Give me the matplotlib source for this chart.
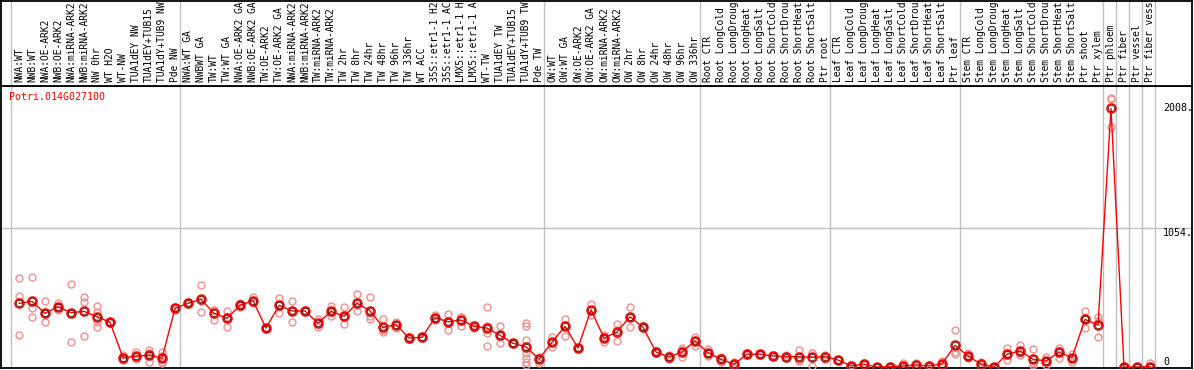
import matplotlib
matplotlib.use("Agg")
import matplotlib.pyplot as plt
import matplotlib.transforms as mtransforms
import numpy as np

# ---- data ----
gene = "Potri.014G027100"

samples = [
    "NWA:WT", "NWB:WT", "NWA:OE-ARK2", "NWB:OE-ARK2", "NWA:miRNA-ARK2", "NWB:miRNA-ARK2",
    "NW 0hr", "WT H2O", "WT-NW", "TUA1dEY NW", "TUA1dEY+TUB15", "TUA1dY+TUB9 NW", "Pde NW",
    "NWA:WT GA", "NWBWT GA", "TW:WT", "TW:WT GA", "NWA:OE-ARK2 GA", "NWB:OE-ARK2 GA",
    "TW:OE-ARK2", "TW:OE-ARK2 GA", "NWA:miRNA-ARK2", "NWB:miRNA-ARK2", "TW:miRNA-ARK2",
    "TW:miRNA-ARK2 GA", "TW 2hr", "TW 8hr", "TW 24hr", "TW 48hr", "TW 96hr", "TW 336hr",
    "WT ACC", "35S::etr1-1 H2O", "35S::etr1-1 ACC", "LMX5::etr1-1 H2O", "LMX5::etr1-1 ACC",
    "WT-TW", "TUA1dEY TW", "TUA1dEY+TUB15", "TUA1dY+TUB9 TW", "Pde TW",
    "OW:WT", "OW:WT GA", "OW:OE-ARK2", "OW:OE-ARK2 GA", "OW:miRNA-ARK2", "OW:miRNA-ARK2 GA",
    "OW 2hr", "OW 8hr", "OW 24hr", "OW 48hr", "OW 96hr", "OW 336hr",
    "Root CTR", "Root LongCold", "Root LongDrought", "Root LongHeat", "Root LongSalt",
    "Root ShortCold", "Root ShortDrought", "Root ShortHeat", "Root ShortSalt", "Ptr root",
    "Leaf CTR", "Leaf LongCold", "Leaf LongDrought", "Leaf LongHeat", "Leaf LongSalt",
    "Leaf ShortCold", "Leaf ShortDrought", "Leaf ShortHeat", "Leaf ShortSalt", "Ptr leaf",
    "Stem CTR", "Stem LongCold", "Stem LongDrought", "Stem LongHeat", "Stem LongSalt",
    "Stem ShortCold", "Stem ShortDrought", "Stem ShortHeat", "Stem ShortSalt", "Ptr shoot",
    "Ptr xylem", "Ptr phloem", "Ptr fiber", "Ptr vessel", "Ptr fiber vessel",
]

# samples per experiment block (separated by grey lines)
group_sizes = [13, 28, 12, 10, 10, 11, 1, 1, 1, 1]

means = [
    484, 499, 408, 458, 413, 423, 382, 340, 71, 81, 91, 66, 446,
    484, 514, 408, 370, 469, 504, 296, 469, 426, 426, 332, 423, 385, 484, 428, 302, 322,
    220, 226, 375, 344, 357, 309, 296, 241, 180, 154, 59,
    188, 309, 145, 435, 220, 266, 382, 302, 114, 76, 114, 198,
    109, 59, 21, 97, 97, 84, 78, 78, 74, 78,
    53, 8, 21, 0, 2, 8, 15, 8, 23, 165,
    84, 21, 0, 97, 122, 59, 46, 112, 71, 362, 319,
    1966, 0, 0, 2,
]

reps = [
    [674, 540, 241], [682, 446, 378], [499, 340, 408], [484, 433, 458], [628, 413, 190],
    [534, 496, 233], [464, 420, 340, 305], [345, 335], [91, 53, 71], [112, 59, 75],
    [129, 40, 104, 92], [112, 40, 28, 84], [458, 433],
    [492, 476], [623, 416, 503], [433, 357, 432], [426, 306, 378], [469, 484, 455],
    [534, 484, 494], [302, 290], [522, 413, 472], [502, 340, 436], [430, 422], [362, 302],
    [464, 388, 417], [454, 324, 377], [555, 423, 474], [530, 367, 387], [362, 264, 280],
    [344, 322, 300], [228, 212], [230, 222], [395, 375, 355], [403, 281, 348],
    [382, 312, 377], [322, 300, 305], [454, 256, 162, 312], [309, 180, 234], [185, 175],
    [337, 312, 205, 104, 66, 40, 15], [78, 28, 70],
    [226, 150], [367, 238, 322], [150, 140], [479, 393], [226, 192, 242], [324, 195, 279],
    [458, 306, 382], [310, 294], [125, 103], [91, 59, 78], [142, 74, 126], [226, 160, 208],
    [139, 84, 104], [78, 40, 59], [40, 2, 21], [104, 90], [100, 94], [90, 78], [90, 66],
    [129, 48, 57], [104, 10, 108], [93, 63],
    [55, 51], [15, 2], [28, 14], [0, 2], [6, 0], [28, 0], [28, 2], [15, 2], [48, 5],
    [281, 99, 115],
    [104, 68, 80], [40, 8], [0, 2], [142, 53, 96], [167, 91, 108], [137, 13, 27],
    [78, 13, 47], [147, 71, 118], [97, 40, 76], [428, 296, 362], [382, 226, 349],
    [2042, 1822, 2034], [0, 0], [0, 0], [28, 0],
]

ytick_vals = [2008, 1054, 0]
ytick_text = ["2008.", "1054.", "0"]

# ---- figure ----
W, H = 1194, 370
fig = plt.figure(figsize=(W / 100, H / 100), dpi=100)
mono = "DejaVu Sans Mono"
grey = "#c0c0c0"

top_px = 85.7
ax = fig.add_axes([1 / W, (H - 368) / H, 1191 / W, (368 - top_px) / H])
axl = fig.add_axes([1 / W, (H - top_px) / H, 1191 / W, (top_px - 0.6) / H])

x = np.arange(len(samples))
xlim = (-1.385, 90.23)
for a in (ax, axl):
    a.set_xlim(*xlim)
    a.set_xticks([])
    a.set_yticks([])
    for s in a.spines.values():
        s.set_color("black")
        s.set_linewidth(1.3)

ax.set_ylim(-7.6, 2138)
axl.set_ylim(0, 1)

# grey separators between sample blocks
seps = np.concatenate([[-1], np.cumsum(group_sizes) - 1]) + 0.4
for s in seps:
    ax.axvline(s, color=grey, lw=1, zorder=1)
    axl.axvline(s, color=grey, lw=1, zorder=1)
ax.axhline(1054, color=grey, lw=1, zorder=1)

# sample labels (the header only has room for 14 characters)
for i, lab in enumerate(samples):
    axl.text(i, 0.045, lab[:14].rstrip(), rotation=90, ha="center", va="bottom",
             fontfamily=mono, fontsize=6.9, color="black",
             transform=axl.get_xaxis_transform())

# replicates
for i, r in enumerate(reps):
    ax.plot([i] * len(r), r, ls="none", marker="o", ms=5, mfc="none",
            mec="#f09090", mew=1, zorder=3)

# mean line
ax.plot(x, means, color="red", lw=1, marker="o", ms=6.4, mfc="none",
        mec="red", mew=1.2, zorder=4)
ax.plot(x, means, ls="none", marker="o", ms=4.6, mfc="none",
        mec="#300000", mew=0.5, zorder=5)

# gene name
ax.text(0.007, 0.961, gene, color="red", fontfamily=mono, fontsize=7.2,
        ha="left", va="center", transform=ax.transAxes)

# value labels on the right
tr = mtransforms.blended_transform_factory(ax.transAxes, ax.transData)
for v, t in zip(ytick_vals, ytick_text):
    ax.text((1163 - 1) / 1191, v, t, fontfamily=mono, fontsize=7.2, color="black",
            ha="left", va="bottom" if v == 0 else "top", transform=tr)

fig.savefig("out.png", dpi=100)
